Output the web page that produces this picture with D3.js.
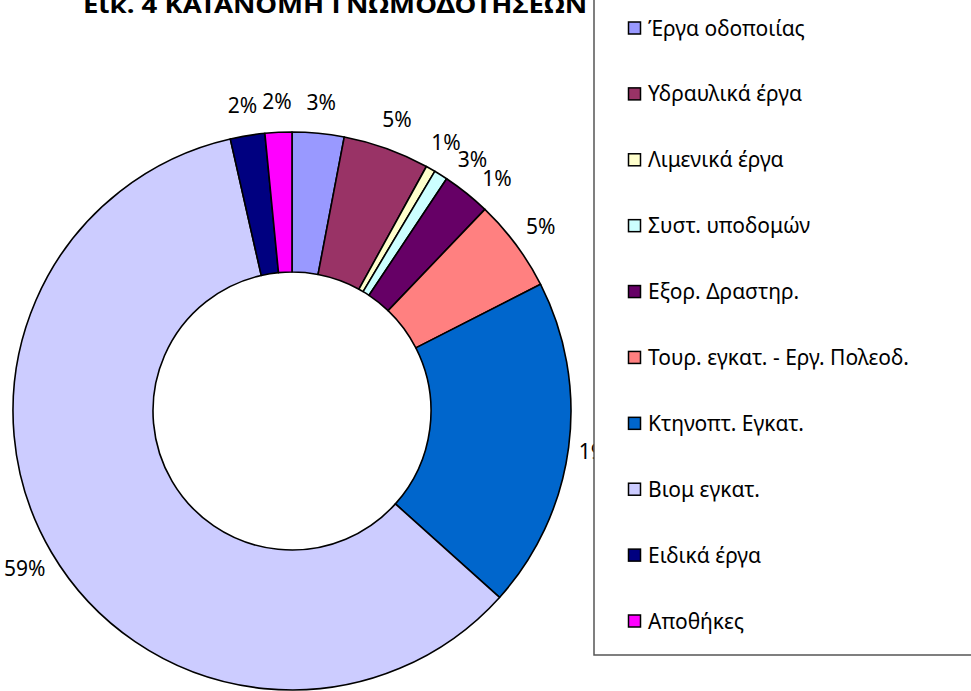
<!DOCTYPE html>
<html>
<head>
<meta charset="utf-8">
<script src="https://cdn.jsdelivr.net/npm/d3@7"></script>
<style>
  html, body { margin: 0; padding: 0; background: #fff; overflow: hidden; }
  svg { display: block; font-family: "Noto Sans", "DejaVu Sans", sans-serif; }
</style>
</head>
<body>
<svg id="chart"></svg>
<script>
// Data
const categories = [
  "Έργα οδοποιίας",
  "Υδραυλικά έργα",
  "Λιμενικά έργα",
  "Συστ. υποδομών",
  "Εξορ. Δραστηρ.",
  "Τουρ. εγκατ. - Εργ. Πολεοδ.",
  "Κτηνοπτ. Εγκατ.",
  "Βιομ εγκατ.",
  "Ειδικά έργα",
  "Αποθήκες",
];
const shares = [3.0, 5.0, 0.55, 0.8, 2.8, 5.35, 19.15, 59.8, 2.0, 1.55];
const shareLabels = ["3%", "5%", "1%", "3%", "1%", "5%", "19%", "59%", "2%", "2%"];
const colors = [
  "#9999FF", "#993366", "#FFFFCC", "#CCFFFF", "#660066",
  "#FF8080", "#0066CC", "#CCCCFF", "#000080", "#FF00FF",
];
const title = "Εικ. 4 ΚΑΤΑΝΟΜΗ ΓΝΩΜΟΔΟΤΗΣΕΩΝ";

const WIDTH = 971;
const HEIGHT = 691;

// Chart geometry
const CX = 292;
const CY = 411;
const OUTER_R = 279;
const INNER_R = 139;
const LABEL_R = 310;
const MIN_LABEL_GAP = (5.8 * Math.PI) / 180;

const svg = d3.select("#chart").attr("width", WIDTH).attr("height", HEIGHT);

// Donut
const pie = d3.pie().sort(null).value((d) => d);
const arcs = pie(shares);
const arc = d3.arc().innerRadius(INNER_R).outerRadius(OUTER_R);

const donut = svg.append("g").attr("transform", `translate(${CX},${CY})`);

donut
  .selectAll("path.slice")
  .data(arcs)
  .enter()
  .append("path")
  .classed("slice", true)
  .attr("d", arc)
  .style("fill", (_, i) => colors[i])
  .style("stroke", "#000")
  .style("stroke-width", 1.6)
  .style("stroke-linejoin", "round");

// Label angles: slice middle, pushed apart where small slices crowd
const labelAngles = [];
arcs.forEach((d, i) => {
  let a = (d.startAngle + d.endAngle) / 2;
  if (i > 0 && a - labelAngles[i - 1] < MIN_LABEL_GAP) {
    a = labelAngles[i - 1] + MIN_LABEL_GAP;
  }
  labelAngles.push(a);
});

donut
  .selectAll("text.pct")
  .data(arcs)
  .enter()
  .append("text")
  .classed("pct", true)
  .attr(
    "transform",
    (_, i) =>
      `translate(${LABEL_R * Math.sin(labelAngles[i])},${-LABEL_R * Math.cos(labelAngles[i])})`
  )
  .attr("text-anchor", "middle")
  .attr("dominant-baseline", "central")
  .style("font-size", "21px")
  .style("fill", "#000")
  .text((_, i) => shareLabels[i]);

// Title (top is clipped by the page edge)
svg
  .append("text")
  .attr("x", 83)
  .attr("y", 12.5)
  .attr("textLength", 504)
  .attr("lengthAdjust", "spacingAndGlyphs")
  .style("font-size", "24px")
  .style("font-weight", "bold")
  .style("fill", "#000")
  .text(title);

// Legend
const legend = svg.append("g");
legend
  .append("rect")
  .attr("x", 594)
  .attr("y", -10)
  .attr("width", 400)
  .attr("height", 665)
  .style("fill", "#fff")
  .style("stroke", "#555")
  .style("stroke-width", 1.5);

const legendY = d3.scalePoint().domain(categories).range([28, 621]);

const legendItems = legend
  .selectAll("g.legend-item")
  .data(categories)
  .enter()
  .append("g")
  .classed("legend-item", true)
  .attr("transform", (d) => `translate(628,${legendY(d)})`);

legendItems
  .append("rect")
  .attr("x", 0.5)
  .attr("y", -6)
  .attr("width", 12)
  .attr("height", 12)
  .style("fill", (_, i) => colors[i])
  .style("stroke", "#000")
  .style("stroke-width", 1.5);

legendItems
  .append("text")
  .attr("x", 20)
  .attr("y", 7.5)
  .style("font-size", "21px")
  .style("fill", "#000")
  .text((d) => d);
</script>
</body>
</html>
